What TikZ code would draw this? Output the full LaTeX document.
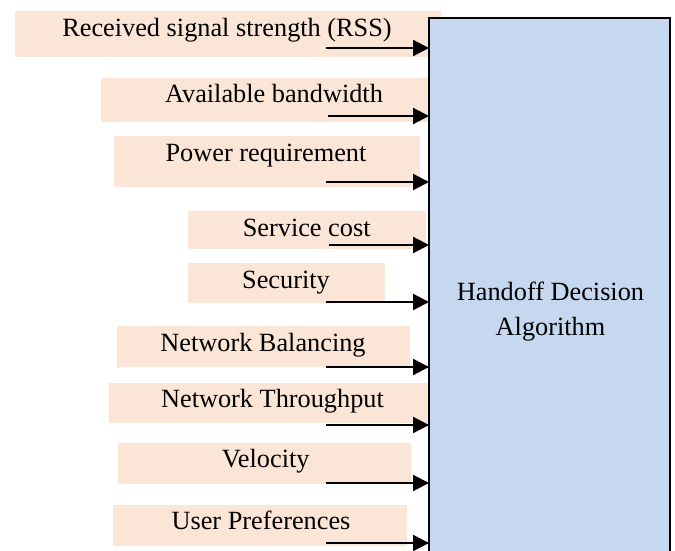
\documentclass[tikz,border=0pt]{standalone}
\usepackage{fontspec}
\setmainfont{Liberation Serif}
\usetikzlibrary{arrows.meta}
\definecolor{peach}{HTML}{FBE5D6}
\definecolor{boxblue}{HTML}{C5D8F0}
\begin{document}
\begin{tikzpicture}[x=1pt,y=-1pt,
  lblbox/.style={fill=peach,draw=none,inner sep=0pt,anchor=center},
  lbltxt/.style={anchor=base,inner sep=0pt,font=\fontsize{26.3}{30}\selectfont},
  arr/.style={line width=2.2pt,-{Triangle[length=16pt,width=16pt]}},
  mainbox/.style={fill=boxblue,draw=black,line width=2.2pt}]
\useasboundingbox (0,0) rectangle (675,550);
% label backgrounds
\node[lblbox,minimum width=426pt,minimum height=46pt] (b1) at (228,34) {};
\node[lblbox,minimum width=329pt,minimum height=44pt] (b2) at (265.5,100) {};
\node[lblbox,minimum width=306pt,minimum height=51pt] (b3) at (267,161.5) {};
\node[lblbox,minimum width=238pt,minimum height=38pt] (b4) at (307,230) {};
\node[lblbox,minimum width=197pt,minimum height=40pt] (b5) at (286.5,283) {};
\node[lblbox,minimum width=293pt,minimum height=41pt] (b6) at (263.5,346.5) {};
\node[lblbox,minimum width=319pt,minimum height=40pt] (b7) at (268.5,403) {};
\node[lblbox,minimum width=293pt,minimum height=41pt] (b8) at (264.5,463.5) {};
\node[lblbox,minimum width=294pt,minimum height=41pt] (b9) at (260,525.5) {};
% main box
\path[mainbox] (429,18) rectangle (670,570);
\coordinate (boxw) at (429,300);
% texts
\node[lbltxt] (t1) at (227,36) {Received signal strength (RSS)};
\node[lbltxt] (t2) at (274,102) {Available bandwidth};
\node[lbltxt] (t3) at (266,161) {Power requirement};
\node[lbltxt] (t4) at (306.7,236) {Service cost};
\node[lbltxt] (t5) at (286,288) {Security};
\node[lbltxt] (t6) at (263,351) {Network Balancing};
\node[lbltxt] (t7) at (272.5,407) {Network Throughput};
\node[lbltxt] (t8) at (265.7,467) {Velocity};
\node[lbltxt] (t9) at (261,529) {User Preferences};
\node[lbltxt] (h1) at (550.5,300.5) {Handoff Decision};
\node[lbltxt] (h2) at (550.5,335) {Algorithm};
% arrow starts
\coordinate (s1) at (326,48);
\coordinate (s2) at (328,116);
\coordinate (s3) at (326,182);
\coordinate (s4) at (329,245);
\coordinate (s5) at (326,302);
\coordinate (s6) at (326,367);
\coordinate (s7) at (326,425);
\coordinate (s8) at (326,483);
\coordinate (s9) at (326,543);
\foreach \i in {1,...,9}{
  \draw[arr] (s\i) -- (s\i -| boxw);
}
\end{tikzpicture}
\end{document}
